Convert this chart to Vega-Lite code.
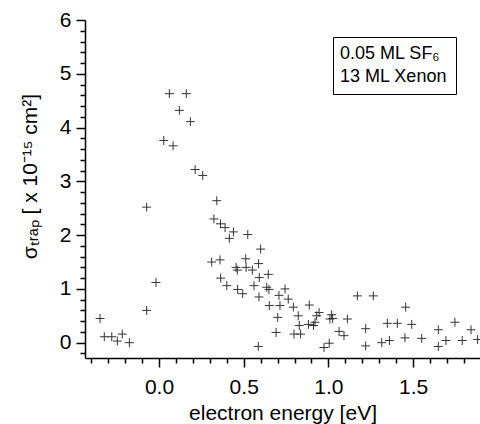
{
  "$schema": "https://vega.github.io/schema/vega-lite/v6.json",
  "width": 395,
  "height": 338,
  "autosize": {"type": "none"},
  "padding": {"left": 85, "top": 20, "right": 0, "bottom": 66},
  "background": "white",
  "config": {
    "view": {"stroke": null},
    "font": "Liberation Sans",
    "axis": {
      "grid": false,
      "domainColor": "black",
      "domainWidth": 1.5,
      "tickColor": "black",
      "tickWidth": 1.5,
      "labelColor": "black",
      "titleColor": "black",
      "labelFont": "Liberation Sans",
      "titleFont": "Liberation Sans",
      "labelFontSize": 21,
      "titleFontSize": 21,
      "titleFontWeight": "normal"
    }
  },
  "datasets": {
    "pts": [
      {"e": -0.348, "s": 0.45}, {"e": -0.323, "s": 0.11}, {"e": -0.279, "s": 0.11},
      {"e": -0.246, "s": 0.03}, {"e": -0.217, "s": 0.16}, {"e": -0.175, "s": 0.0},
      {"e": -0.073, "s": 0.6}, {"e": -0.018, "s": 1.12}, {"e": -0.073, "s": 2.52},
      {"e": 0.028, "s": 3.76}, {"e": 0.061, "s": 4.63}, {"e": 0.083, "s": 3.66},
      {"e": 0.12, "s": 4.32}, {"e": 0.161, "s": 4.63}, {"e": 0.185, "s": 4.11},
      {"e": 0.213, "s": 3.22}, {"e": 0.258, "s": 3.11}, {"e": 0.341, "s": 2.64},
      {"e": 0.324, "s": 2.3}, {"e": 0.363, "s": 2.21}, {"e": 0.39, "s": 2.14},
      {"e": 0.439, "s": 2.06}, {"e": 0.415, "s": 1.94}, {"e": 0.524, "s": 2.01},
      {"e": 0.6, "s": 1.74}, {"e": 0.311, "s": 1.5}, {"e": 0.36, "s": 1.54},
      {"e": 0.512, "s": 1.56}, {"e": 0.455, "s": 1.4}, {"e": 0.462, "s": 1.35},
      {"e": 0.514, "s": 1.4}, {"e": 0.551, "s": 1.35}, {"e": 0.588, "s": 1.47},
      {"e": 0.645, "s": 1.27}, {"e": 0.592, "s": 1.21}, {"e": 0.364, "s": 1.2},
      {"e": 0.4, "s": 1.06}, {"e": 0.464, "s": 0.99}, {"e": 0.494, "s": 0.91},
      {"e": 0.561, "s": 1.06}, {"e": 0.636, "s": 1.03}, {"e": 0.649, "s": 0.99},
      {"e": 0.744, "s": 1.0}, {"e": 0.59, "s": 0.85}, {"e": 0.708, "s": 0.88},
      {"e": 0.763, "s": 0.81}, {"e": 0.651, "s": 0.69}, {"e": 0.714, "s": 0.69},
      {"e": 0.793, "s": 0.66}, {"e": 0.887, "s": 0.7}, {"e": 0.822, "s": 0.5},
      {"e": 0.931, "s": 0.5}, {"e": 0.945, "s": 0.56}, {"e": 1.009, "s": 0.44},
      {"e": 1.025, "s": 0.45}, {"e": 1.019, "s": 0.52}, {"e": 1.112, "s": 0.44},
      {"e": 0.701, "s": 0.47}, {"e": 0.828, "s": 0.32}, {"e": 0.882, "s": 0.34},
      {"e": 0.912, "s": 0.32}, {"e": 0.921, "s": 0.38}, {"e": 0.691, "s": 0.19},
      {"e": 0.797, "s": 0.16}, {"e": 0.836, "s": 0.16}, {"e": 1.063, "s": 0.21},
      {"e": 1.092, "s": 0.13}, {"e": 0.586, "s": -0.07}, {"e": 0.974, "s": -0.09},
      {"e": 1.005, "s": -0.01}, {"e": 1.171, "s": 0.87}, {"e": 1.265, "s": 0.87},
      {"e": 1.456, "s": 0.66}, {"e": 1.22, "s": 0.26}, {"e": 1.22, "s": -0.06},
      {"e": 1.348, "s": 0.36}, {"e": 1.407, "s": 0.36}, {"e": 1.492, "s": 0.34},
      {"e": 1.315, "s": 0.0}, {"e": 1.36, "s": 0.04}, {"e": 1.452, "s": 0.09},
      {"e": 1.551, "s": 0.08}, {"e": 1.649, "s": 0.24}, {"e": 1.649, "s": -0.07},
      {"e": 1.694, "s": 0.04}, {"e": 1.747, "s": 0.38}, {"e": 1.79, "s": 0.04},
      {"e": 1.842, "s": 0.24}, {"e": 1.881, "s": 0.06}
    ],
    "legend": [{"label": "0.05 ML SF₆"}, {"label": "13 ML Xenon"}]
  },
  "layer": [
    {
      "data": {"name": "pts"},
      "mark": {"type": "point", "shape": "M-1,0H1M0,-1V1", "filled": false, "stroke": "#333333", "strokeWidth": 1, "size": 80, "opacity": 1, "clip": true},
      "encoding": {
        "x": {
          "field": "e", "type": "quantitative",
          "scale": {"domain": [-0.437, 1.895], "nice": false, "zero": false},
          "axis": {"orient": "bottom", "values": [0, 0.5, 1, 1.5], "format": ".1f", "tickSize": 9, "labelPadding": 9,
                   "title": "electron energy [eV]", "titleY": 61, "titleBaseline": "alphabetic"}
        },
        "y": {
          "field": "s", "type": "quantitative",
          "scale": {"domain": [-0.285, 6], "nice": false, "zero": false},
          "axis": {"orient": "left", "values": [0, 1, 2, 3, 4, 5, 6], "format": "d", "tickSize": 9, "labelPadding": 5,
                   "title": "σₜᵣₐₚ [ x 10⁻¹⁵ cm²]", "titleAngle": 270, "titleX": -55, "titleY": 156,
                   "titleAlign": "center", "titleBaseline": "middle"}
        }
      }
    },
    {
      "data": {"name": "pts"},
      "mark": {"type": "point", "opacity": 0},
      "encoding": {
        "x": {
          "field": "e", "type": "quantitative",
          "axis": {"orient": "bottom", "values": [-0.4, -0.3, -0.2, -0.1, 0.1, 0.2, 0.3, 0.4, 0.6, 0.7, 0.8, 0.9, 1.1, 1.2, 1.3, 1.4, 1.6, 1.7, 1.8],
                   "labels": false, "domain": false, "tickSize": 5, "title": null}
        },
        "y": {
          "field": "s", "type": "quantitative",
          "axis": {"orient": "left", "values": [-0.2, 0.2, 0.4, 0.6, 0.8, 1.2, 1.4, 1.6, 1.8, 2.2, 2.4, 2.6, 2.8, 3.2, 3.4, 3.6, 3.8, 4.2, 4.4, 4.6, 4.8, 5.2, 5.4, 5.6, 5.8],
                   "labels": false, "domain": false, "tickSize": 5, "title": null}
        }
      }
    },
    {
      "data": {"name": "legend"},
      "mark": {"type": "point", "opacity": 0},
      "encoding": {
        "color": {
          "field": "label", "type": "nominal",
          "scale": {"domain": ["0.05 ML SF₆", "13 ML Xenon"], "range": ["black", "black"]},
          "legend": {"title": null, "orient": "none", "legendX": 248, "legendY": 17,
                     "labelFontSize": 18, "labelFont": "Liberation Sans", "labelColor": "black",
                     "symbolSize": 0, "symbolOpacity": 0, "symbolStrokeWidth": 0, "labelOffset": -19,
                     "padding": 8, "rowPadding": 5, "strokeColor": "black", "fillColor": "white"}
        }
      }
    }
  ],
  "resolve": {"axis": {"x": "independent", "y": "independent"}}
}
